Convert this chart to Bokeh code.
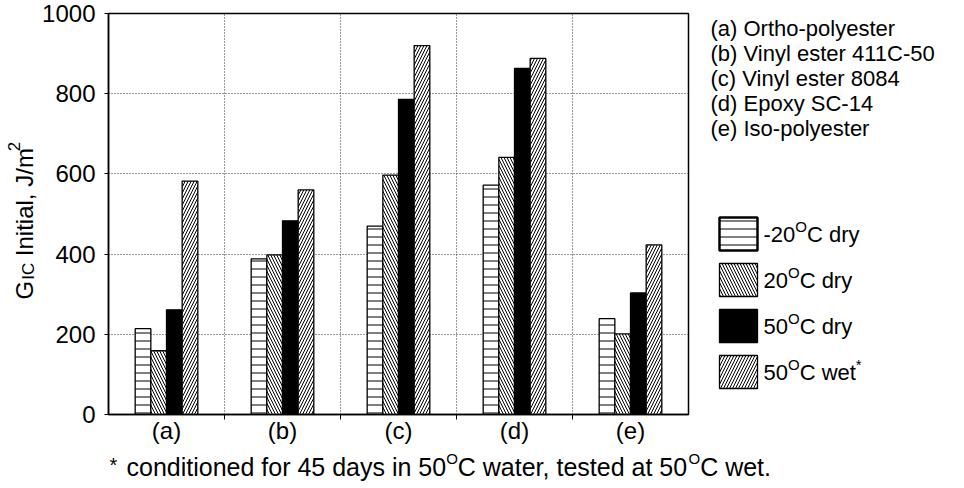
from math import pi

from bokeh.core.properties import value
from bokeh.embed import file_html
from bokeh.layouts import column, row
from bokeh.models import ColumnDataSource, FixedTicker, Range1d
from bokeh.plotting import figure
from bokeh.resources import INLINE
from bokeh.transform import dodge

# ---- data -------------------------------------------------------------
categories = ["(a)", "(b)", "(c)", "(d)", "(e)"]
materials = [
    "(a) Ortho-polyester",
    "(b) Vinyl ester 411C-50",
    "(c) Vinyl ester 8084",
    "(d) Epoxy SC-14",
    "(e) Iso-polyester",
]
minus20_dry = [214, 388, 470, 572, 239]
plus20_dry = [159, 398, 597, 641, 201]
plus50_dry = [261, 483, 786, 863, 303]
plus50_wet = [582, 560, 920, 888, 423]
y_ticks = [0, 200, 400, 600, 800, 1000]

# ---- layout (pixels) ----------------------------------------------------
W, H = 964, 488
LEFT_W = 39            # strip holding the rotated y title
TOP_H = 446            # chart row height; footnote strip below
FL, FR, FT, FB = 108, 688, 13, 415   # plot frame on the page
MAIN_W = FR + 2 - LEFT_W             # chart incl. tick labels
FONT = "Liberation Sans"
N = len(categories)
Y_MAX = 1000
BASE_FIX = 0.3         # text glyph anchor sits ~0.3 em below the alphabetic baseline

# Liberation Sans advance widths (1/1000 em)
ADV = {" ": 278, "(": 333, ")": 333, "-": 333, ",": 278, ".": 278, "/": 278,
       "*": 389, "C": 722, "G": 778, "I": 278, "J": 500, "O": 778,
       "a": 556, "c": 500, "d": 556, "e": 556, "f": 278, "i": 222, "l": 222,
       "m": 833, "n": 556, "o": 556, "r": 333, "s": 500, "t": 278, "w": 722,
       "y": 500}


def text_w(s, size):
    return sum(ADV.get(ch, 556) for ch in s) * size / 1000.0


class Strip:
    """Axis-less figure covering a page rectangle; positions given in page pixels."""

    def __init__(self, x0, y0, width, height):
        self.x0, self.y0, self.h = x0, y0, height
        f = figure(width=width, height=height, title=None,
                   x_range=Range1d(0, width), y_range=Range1d(0, height),
                   x_axis_type=None, y_axis_type=None, frame_align=False,
                   output_backend="svg", toolbar_location=None, min_border=0,
                   background_fill_color="white", border_fill_color="white")
        f.outline_line_color = None
        f.grid.visible = False
        self.fig = f

    def X(self, px):
        return px - self.x0

    def Y(self, py):
        return self.y0 + self.h - py

    def runs(self, x_px, base_px, runs):
        """Horizontal text runs: (text, size, baseline rise)."""
        for txt, size, rise in runs:
            y = base_px - rise - BASE_FIX * size
            self.fig.text(x=[self.X(x_px)], y=[self.Y(y)], text=[txt],
                          text_font=value(FONT), text_font_size=value(f"{size}px"),
                          text_color="black", text_align="left",
                          text_baseline="alphabetic")
            x_px += text_w(txt, size)

    def runs_up(self, base_x_px, y_px, runs):
        """Text reading bottom-to-top: (text, size, shift toward glyph tops, gap before)."""
        for txt, size, rise, kern in runs:
            y_px -= kern
            x = base_x_px - rise - BASE_FIX * size
            self.fig.text(x=[self.X(x)], y=[self.Y(y_px)], text=[txt],
                          angle=pi / 2, text_font=value(FONT),
                          text_font_size=value(f"{size}px"), text_color="black",
                          text_align="left", text_baseline="alphabetic")
            y_px -= text_w(txt, size)


# ---- main chart -----------------------------------------------------------
centers = [i + 0.5 for i in range(N)]
source = ColumnDataSource(dict(
    x=centers, cat=categories,
    m20=minus20_dry, p20=plus20_dry, p50=plus50_dry, w50=plus50_wet,
))

p = figure(
    width=MAIN_W, height=TOP_H, title=None, frame_align=False,
    x_range=Range1d(0, N), y_range=Range1d(0, Y_MAX),
    output_backend="svg", toolbar_location=None,
    min_border_left=FL - LEFT_W, min_border_right=LEFT_W + MAIN_W - FR,
    min_border_top=FT, min_border_bottom=TOP_H - FB,
    background_fill_color="white", border_fill_color="white",
)
p.outline_line_color = "black"
p.outline_line_width = 1.5

p.xaxis.ticker = FixedTicker(ticks=centers, minor_ticks=[1, 2, 3, 4])
p.xaxis.major_label_overrides = {c: lab for c, lab in zip(centers, categories)}
p.xaxis.major_tick_line_color = None
p.xaxis.major_tick_out = 0
p.xaxis.major_tick_in = 0
p.xaxis.minor_tick_line_color = "black"
p.xaxis.minor_tick_in = 0
p.xaxis.minor_tick_out = 5
p.xaxis.major_label_standoff = -3
p.xaxis.major_label_text_font = FONT
p.xaxis.major_label_text_font_size = "24px"
p.xaxis.major_label_text_color = "black"

p.yaxis.ticker = FixedTicker(ticks=y_ticks, minor_ticks=[])
p.yaxis.major_tick_line_color = "black"
p.yaxis.major_tick_in = 0
p.yaxis.major_tick_out = 4
p.yaxis.major_label_standoff = 9
p.yaxis.major_label_text_font = FONT
p.yaxis.major_label_text_font_size = "24px"
p.yaxis.major_label_text_color = "black"

for ax in (p.xaxis, p.yaxis):
    ax.axis_line_color = "black"
    ax.axis_line_width = 1.5

# dotted grid: horizontal at the value ticks, vertical between groups
p.xgrid.ticker = FixedTicker(ticks=[1, 2, 3, 4])
for g in (p.xgrid, p.ygrid):
    g.grid_line_color = "#333333"
    g.grid_line_dash = "1 2"
    g.grid_line_width = 1

bar_w = 0.135
styles = [
    dict(fill_color="white", hatch_pattern="horizontal_line", hatch_scale=8),
    dict(fill_color="white", hatch_pattern="left_diagonal_line", hatch_scale=6),
    dict(fill_color="black"),
    dict(fill_color="white", hatch_pattern="right_diagonal_line", hatch_scale=6),
]
for k, (col, style) in enumerate(zip(["m20", "p20", "p50", "w50"], styles)):
    p.vbar(x=dodge("x", (k - 1.5) * bar_w, range=p.x_range), top=col, width=bar_w,
           source=source, line_color="black", line_width=1.3,
           hatch_color="black", hatch_weight=1, **style)

# ---- y title strip ---------------------------------------------------------
left = Strip(0, 0, LEFT_W, TOP_H)
left.runs_up(31, 299, [("G", 24, 0, 0), ("IC", 17, -2, 1),
                       ("Initial, J/m", 24, 0, text_w(" ", 24)), ("2", 17, 12, -3)])

# ---- keys on the right -------------------------------------------------------
RX0 = LEFT_W + MAIN_W
right = Strip(RX0, 0, W - RX0, TOP_H)
for i, name in enumerate(materials):
    right.runs(710, 35 + 25 * i, [(name, 22, 0)])

key_rows = [
    [("-20", 22, 0), ("O", 15, 10), ("C dry", 22, 0)],
    [("20", 22, 0), ("O", 15, 10), ("C dry", 22, 0)],
    [("50", 22, 0), ("O", 15, 10), ("C dry", 22, 0)],
    [("50", 22, 0), ("O", 15, 10), ("C wet", 22, 0), ("*", 15, 10)],
]
border_w = [2.5, 1.3, 1.3, 1.3]
for i, runs in enumerate(key_rows):
    cy = 233.5 + 46 * i
    right.fig.quad(left=[right.X(719)], right=[right.X(757)],
                   top=[right.Y(cy - 16.5)], bottom=[right.Y(cy + 16.5)],
                   line_color="black", line_width=border_w[i],
                   hatch_color="black", hatch_weight=1, **styles[i])
    right.runs(763, cy + 7, runs)

# ---- footnote strip ----------------------------------------------------------
foot = Strip(0, TOP_H, W, H - TOP_H)
foot.runs(109, 470, [("*", 20, 0)])
foot.runs(126, 474, [("conditioned for 45 days in 50", 25, 0), ("O", 15, 12),
                     ("C water, tested at 50", 25, 0), ("O", 15, 12), ("C wet.", 25, 0)])

page = column(row(left.fig, p, right.fig, spacing=0), foot.fig, spacing=0)
open("out.html", "w").write(file_html(page, INLINE))
